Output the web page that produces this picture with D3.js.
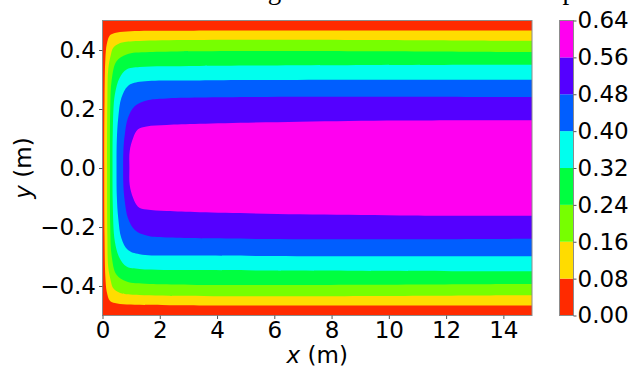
<!DOCTYPE html>
<html>
<head>
<meta charset="utf-8">
<script src="https://cdn.jsdelivr.net/npm/d3@7"></script>
<style>
  body { margin: 0; background: #fff; }
  text { font-family: "DejaVu Sans", sans-serif; }
</style>
</head>
<body>
<script>
// contour levels and band colours (one colour per band between levels)
var levels = [0.00, 0.08, 0.16, 0.24, 0.32, 0.40, 0.48, 0.56, 0.64];
var bandColors = ['#ff2a00', '#ffdc00', '#77ff00', '#00ff40', '#00ffee', '#005eff', '#5400ff', '#ff00f0'];

// tick labels
var xTicks = [0, 2, 4, 6, 8, 10, 12, 14];
var yTicks = [-0.4, -0.2, 0.0, 0.2, 0.4];

// upper half of each contour line [x (m), y (m)] (flow is symmetric about y = 0)
var contour08 = [[0.06, 0], [0.07, 0.23], [0.10, 0.37], [0.15, 0.42], [0.26, 0.45], [0.43, 0.458], [0.85, 0.463], [2.35, 0.465], [15, 0.466]];
var contour16 = [[0.16, 0], [0.17, 0.231], [0.20, 0.336], [0.29, 0.383], [0.37, 0.407], [0.60, 0.423], [1.06, 0.430], [15, 0.431]];
var contour24 = [[0.26, 0], [0.27, 0.197], [0.32, 0.298], [0.49, 0.362], [0.84, 0.385], [1.65, 0.393], [15, 0.393]];
var contour32 = [[0.35, 0], [0.36, 0.129], [0.43, 0.248], [0.60, 0.306], [0.84, 0.334], [1.30, 0.342], [3.40, 0.346], [15, 0.350]];
var contour40 = [[0.49, 0], [0.50, 0.096], [0.55, 0.170], [0.66, 0.238], [0.89, 0.278], [1.30, 0.292], [3.40, 0.297], [15, 0.299]];
var contour48 = [[0.72, 0], [0.73, 0.062], [0.78, 0.114], [0.89, 0.170], [1.13, 0.210], [1.54, 0.229], [2.24, 0.236], [15, 0.240]];
var contour56 = [[0.94, 0], [0.95, 0.058], [1.07, 0.102], [1.24, 0.131], [1.54, 0.141], [2.24, 0.146], [3.40, 0.150], [6.89, 0.157], [10.39, 0.161], [15, 0.162]];
var contours = [contour08, contour16, contour24, contour32, contour40, contour48, contour56];

var W = 635, H = 369;
var plot = {left: 102.5, right: 532, top: 20.5, bottom: 315.5};
var bar = {left: 559.5, right: 573.5};

var svg = d3.select('body').append('svg')
    .attr('width', W)
    .attr('height', H);

// clipped title (only the descenders show in the reference)
svg.append('text')
    .attr('x', 576)
    .attr('y', -1)
    .attr('text-anchor', 'end')
    .style('font-family', '"Liberation Serif", serif')
    .style('font-size', '27px')
    .text('Flow magnitude at the final time step');

// scales
var x = d3.scaleLinear().domain([0, 15]).range([plot.left, plot.right]);
var y = d3.scaleLinear().domain([-0.5, 0.5]).range([plot.bottom, plot.top]);
var c = d3.scaleLinear().domain([0, 0.64]).range([plot.bottom, plot.top]);

svg.append('clipPath').attr('id', 'clip')
  .append('rect')
    .attr('x', plot.left).attr('y', plot.top)
    .attr('width', plot.right - plot.left)
    .attr('height', plot.bottom - plot.top);

var g = svg.append('g').attr('clip-path', 'url(#clip)');

// lowest band fills the whole domain
g.append('rect')
    .attr('x', x(0)).attr('y', y(0.5))
    .attr('width', x(15) - x(0))
    .attr('height', y(-0.5) - y(0.5))
    .attr('fill', bandColors[0]);

var line = d3.line()
    .x(function(d) { return x(d[0]); })
    .y(function(d) { return y(d[1]); })
    .curve(d3.curveCatmullRom.alpha(0.5));

// each contour closes a region holding all higher values, drawn inside-out
contours.forEach(function(pts, i) {
    var upper = pts.slice().reverse();
    var lower = pts.slice(1).map(function(d) { return [d[0], -d[1]]; });
    var ring = upper.concat(lower);
    g.append('path')
        .attr('d', line(ring) + 'Z')
        .attr('fill', bandColors[i + 1]);
});

// frame
svg.append('rect')
    .attr('x', plot.left).attr('y', plot.top)
    .attr('width', plot.right - plot.left)
    .attr('height', plot.bottom - plot.top)
    .attr('fill', 'none')
    .attr('stroke', '#8c8c8c')
    .attr('stroke-width', 1);

// axes
var xAxis = d3.axisBottom(x).tickValues(xTicks).tickSize(3.5).tickPadding(3).tickFormat(d3.format('d'));
var yAxis = d3.axisLeft(y).tickValues(yTicks).tickSize(3.5).tickPadding(3).tickFormat(d3.format('.1f'));

var gx = svg.append('g')
    .attr('transform', 'translate(0,' + plot.bottom + ')')
    .call(xAxis);
var gy = svg.append('g')
    .attr('transform', 'translate(' + plot.left + ',0)')
    .call(yAxis);

[gx, gy].forEach(function(a) {
    a.select('.domain').remove();
    a.selectAll('.tick line').attr('stroke', '#555');
    a.selectAll('.tick text')
        .attr('fill', '#000')
        .style('font-family', '"DejaVu Sans", sans-serif')
        .style('font-size', '23px');
});

// axis titles
var xl = svg.append('text')
    .attr('x', (plot.left + plot.right) / 2)
    .attr('y', 363)
    .attr('text-anchor', 'middle')
    .style('font-size', '23px');
xl.append('tspan').style('font-style', 'italic').text('x');
xl.append('tspan').text(' (m)');

var yl = svg.append('text')
    .attr('transform', 'translate(31,' + ((plot.top + plot.bottom) / 2) + ')rotate(-90)')
    .attr('text-anchor', 'middle')
    .style('font-size', '23px');
yl.append('tspan').style('font-style', 'italic').text('y');
yl.append('tspan').text(' (m)');

// colour bar
var bands = d3.range(bandColors.length);
svg.append('g').selectAll('rect')
    .data(bands)
  .enter().append('rect')
    .attr('x', bar.left)
    .attr('y', function(i) { return c(levels[i + 1]); })
    .attr('width', bar.right - bar.left)
    .attr('height', function(i) { return c(levels[i]) - c(levels[i + 1]); })
    .attr('fill', function(i) { return bandColors[i]; });

svg.append('rect')
    .attr('x', bar.left).attr('y', c(0.64))
    .attr('width', bar.right - bar.left)
    .attr('height', c(0) - c(0.64))
    .attr('fill', 'none')
    .attr('stroke', '#8c8c8c')
    .attr('stroke-width', 1);

var cAxis = d3.axisRight(c).tickValues(levels).tickSize(3).tickPadding(1).tickFormat(d3.format('.2f'));
var gc = svg.append('g')
    .attr('transform', 'translate(' + bar.right + ',0)')
    .call(cAxis);
gc.select('.domain').remove();
gc.selectAll('.tick line').attr('stroke', '#555');
gc.selectAll('.tick text')
    .attr('fill', '#000')
    .style('font-family', '"DejaVu Sans", sans-serif')
    .style('font-size', '23px');
</script>
</body>
</html>
